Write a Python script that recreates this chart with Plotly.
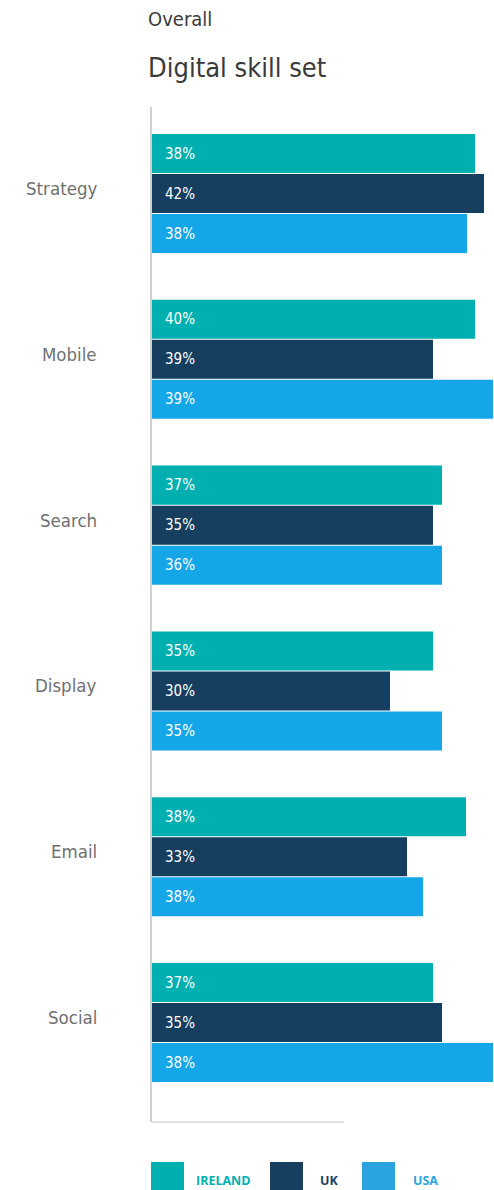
import plotly.graph_objects as go

# ---- data ----
categories = ["Strategy", "Mobile", "Search", "Display", "Email", "Social"]
series_names = ["IRELAND", "UK", "USA"]
# bar lengths as drawn (chart units)
ireland_len = [323, 323, 290, 281, 314, 281]
uk_len = [332, 281, 281, 238, 255, 290]
usa_len = [315, 341, 290, 290, 271, 341]
# printed labels
ireland_lbl = ["38%", "40%", "37%", "35%", "38%", "37%"]
uk_lbl = ["42%", "39%", "35%", "30%", "33%", "35%"]
usa_lbl = ["38%", "39%", "36%", "35%", "38%", "38%"]

bar_colors = ["#00AFB0", "#163E5E", "#15A6E8"]
legend_colors = ["#00AFB0", "#173F5F", "#2AA3DF"]

W, H = 494, 1190
ML, MR, MT, MB = 152, 0, 107, 68
PW = W - ML - MR
PH = H - MT - MB


def px_x(x):
    return (x - ML) / PW


def px_y(y):
    return (H - MB - y) / PH


fig = go.Figure()
lens = [ireland_len, uk_len, usa_len]
lbls = [ireland_lbl, uk_lbl, usa_lbl]
for name, L, c in zip(series_names, lens, bar_colors):
    fig.add_trace(go.Bar(
        y=categories, x=L, orientation="h", name=name,
        marker=dict(color=c, line=dict(width=0)),
        showlegend=False, hoverinfo="skip",
    ))

# percentage labels inside bars
group_w = 1 - 0.276
n = len(series_names)
unit_px = PH / (5.600 + 0.522)
bar_px = group_w * unit_px / n
annotations = []
for si, (L, lab) in enumerate(zip(lens, lbls)):
    off = (si - (n - 1) / 2) * bar_px
    for ci, cat in enumerate(categories):
        annotations.append(dict(
            x=0, y=cat, xref="x", yref="y", text=lab[ci], showarrow=False,
            xanchor="left", yanchor="middle", xshift=11, yshift=-off,
            font=dict(family="DejaVu Sans Condensed, sans-serif",
                      size=15, color="white"),
        ))

# category labels (placed slightly above the group centre, as in the original)
for ci, cat in enumerate(categories):
    annotations.append(dict(
        x=0, y=cat, xref="paper", yref="y", text=cat, showarrow=False,
        xanchor="right", yanchor="middle", xshift=-53, yshift=5,
        font=dict(family="DejaVu Sans Condensed", size=18.5, color="#707070"),
    ))

# titles
annotations.append(dict(x=px_x(146), y=px_y(19), xref="paper", yref="paper",
                        text="Overall", showarrow=False, xanchor="left", yanchor="middle",
                        font=dict(family="DejaVu Sans Condensed", size=20, color="#3a3a3a")))
annotations.append(dict(x=px_x(146), y=px_y(68), xref="paper", yref="paper",
                        text="Digital skill set", showarrow=False, xanchor="left", yanchor="middle",
                        font=dict(family="DejaVu Sans Condensed", size=27, color="#3a3a3a")))

# legend
shapes = []
leg_sq_x = [151, 270, 362]
leg_tx_x = [194, 318, 411]
for name, c, sx, tx in zip(series_names, legend_colors, leg_sq_x, leg_tx_x):
    shapes.append(dict(type="rect", xref="paper", yref="paper",
                       x0=px_x(sx), x1=px_x(sx + 33), y0=px_y(1162), y1=px_y(1200),
                       fillcolor=c, line=dict(width=0), layer="above"))
    annotations.append(dict(x=px_x(tx), y=px_y(1180), xref="paper", yref="paper",
                            text="<b>" + name + "</b>", showarrow=False,
                            xanchor="left", yanchor="middle",
                            font=dict(family="Open Sans", size=12.5, color=c)))

# short baseline
shapes.append(dict(type="line", xref="paper", yref="paper",
                   x0=0, x1=px_x(344), y0=0, y1=0,
                   line=dict(color="#d6d6d6", width=1.5)))

fig.update_layout(
    width=W, height=H,
    margin=dict(l=ML, r=MR, t=MT, b=MB, pad=0),
    paper_bgcolor="white", plot_bgcolor="white",
    barmode="group", bargap=0.276, bargroupgap=0.025,
    showlegend=False,
    annotations=annotations, shapes=shapes,
    xaxis=dict(range=[0, PW], visible=False, fixedrange=True),
    yaxis=dict(range=[5.600, -0.522], showgrid=False, zeroline=False,
               showline=True, linecolor="#d0d0d0", linewidth=1.5,
               showticklabels=False, ticks=""),
)

fig.write_html("out.html", config={"displayModeBar": False})
